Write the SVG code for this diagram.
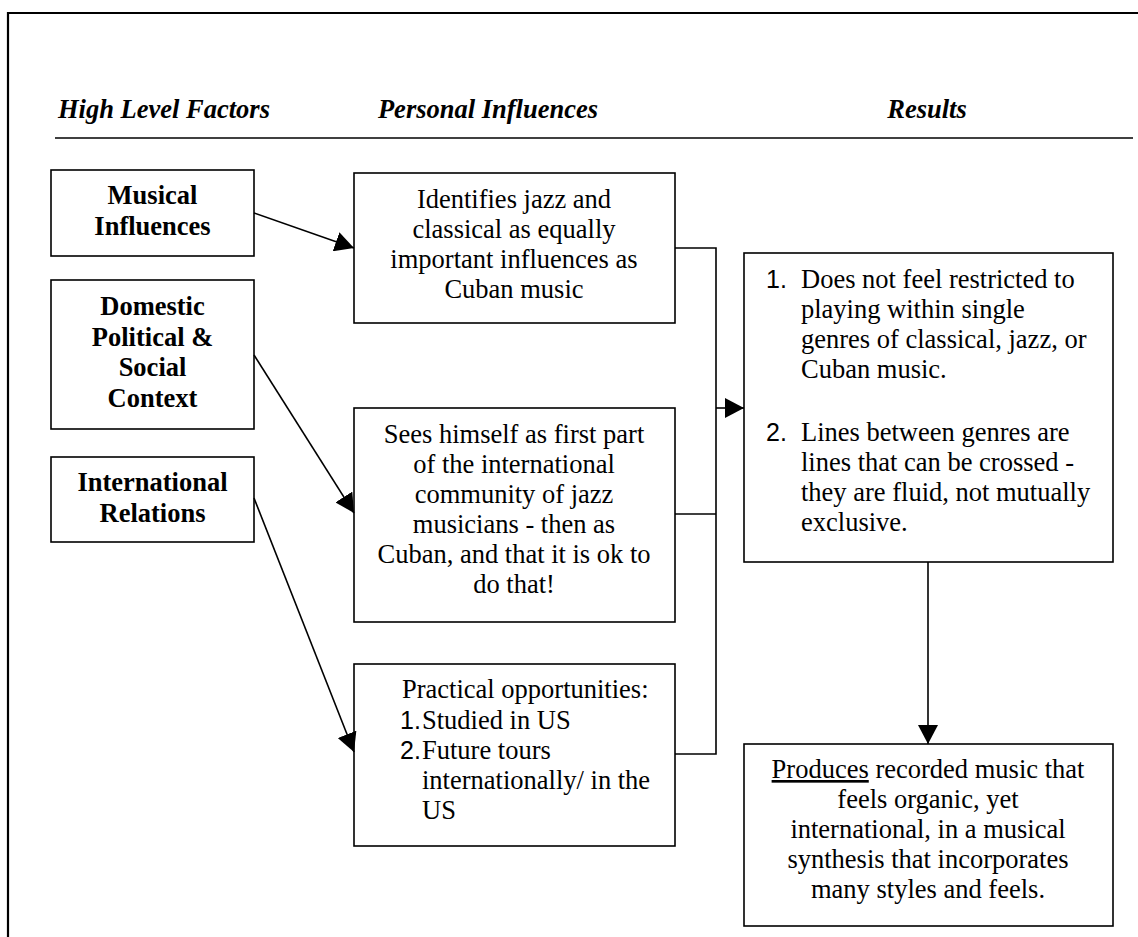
<svg xmlns="http://www.w3.org/2000/svg" width="1138" height="937" viewBox="0 0 1138 937">
  <style>
    .box { fill: #fff; stroke: #000; stroke-width: 1.6; }
    .frame { fill: none; stroke: #000; stroke-width: 2.2; }
    .rule { stroke: #000; stroke-width: 1.6; }
    .wire { fill: none; stroke: #000; stroke-width: 1.6; }
    .head { font-size: 26.5px; font-weight: bold; font-style: italic; fill: #000; }
    .factor { font-size: 26.5px; font-weight: bold; fill: #000; text-anchor: middle; }
    .body { font-size: 26.5px; fill: #000; }
    .mid { text-anchor: middle; }
    .num { font-size: 25px; fill: #000; }
  </style>
  <defs>
    <marker id="arrow" markerUnits="userSpaceOnUse" viewBox="0 0 20 20" markerWidth="20" markerHeight="20" refX="19" refY="10" orient="auto">
      <path d="M0,0 L19,10 L0,20 z" fill="#000"/>
    </marker>
  </defs>

  <rect width="1138" height="937" fill="#fff"/>

  <!-- page frame -->
  <path class="frame" d="M8,937 L8,13 L1138,13"/>

  <g font-family="Liberation Serif">
    <!-- column headings -->
    <g id="headings">
      <text class="head" x="58" y="118">High Level Factors</text>
      <text class="head" x="488" y="118" text-anchor="middle">Personal Influences</text>
      <text class="head" x="927" y="118" text-anchor="middle">Results</text>
      <line class="rule" x1="55" y1="138" x2="1133" y2="138"/>
    </g>

    <!-- high level factors -->
    <g id="musical-influences">
      <rect class="box" x="51" y="170" width="203" height="86"/>
      <text class="factor" x="152.5" y="204">Musical</text>
      <text class="factor" x="152.5" y="235">Influences</text>
    </g>
    <g id="domestic-context">
      <rect class="box" x="51" y="280" width="203" height="149"/>
      <text class="factor" x="152.5" y="315">Domestic</text>
      <text class="factor" x="152.5" y="345.5">Political &amp;</text>
      <text class="factor" x="152.5" y="376">Social</text>
      <text class="factor" x="152.5" y="406.5">Context</text>
    </g>
    <g id="international-relations">
      <rect class="box" x="51" y="457" width="203" height="85"/>
      <text class="factor" x="152.5" y="491">International</text>
      <text class="factor" x="152.5" y="522">Relations</text>
    </g>

    <!-- personal influences -->
    <g id="equal-influences">
      <rect class="box" x="354" y="173" width="321" height="150"/>
      <text class="body mid" x="514" y="208">Identifies jazz and</text>
      <text class="body mid" x="514" y="238">classical as equally</text>
      <text class="body mid" x="514" y="268">important influences as</text>
      <text class="body mid" x="514" y="298">Cuban music</text>
    </g>
    <g id="international-community">
      <rect class="box" x="354" y="408" width="321" height="214"/>
      <text class="body mid" x="514" y="443">Sees himself as first part</text>
      <text class="body mid" x="514" y="473">of the international</text>
      <text class="body mid" x="514" y="503">community of jazz</text>
      <text class="body mid" x="514" y="533">musicians - then as</text>
      <text class="body mid" x="514" y="563">Cuban, and that it is ok to</text>
      <text class="body mid" x="514" y="593">do that!</text>
    </g>
    <g id="practical-opportunities">
      <rect class="box" x="354" y="664" width="321" height="182"/>
      <text class="body" x="402" y="698">Practical opportunities:</text>
      <text class="num" font-family="Liberation Sans" x="400" y="729">1.</text>
      <text class="body" x="422" y="729">Studied in US</text>
      <text class="num" font-family="Liberation Sans" x="400" y="759">2.</text>
      <text class="body" x="422" y="759">Future tours</text>
      <text class="body" x="422" y="789">internationally/ in the</text>
      <text class="body" x="422" y="819">US</text>
    </g>

    <!-- results -->
    <g id="genre-freedom">
      <rect class="box" x="744" y="253" width="369" height="309"/>
      <text class="num" font-family="Liberation Sans" x="766" y="288">1.</text>
      <text class="body" x="801" y="288">Does not feel restricted to</text>
      <text class="body" x="801" y="318">playing within single</text>
      <text class="body" x="801" y="348">genres of classical, jazz, or</text>
      <text class="body" x="801" y="378">Cuban music.</text>
      <text class="num" font-family="Liberation Sans" x="766" y="441">2.</text>
      <text class="body" x="801" y="441">Lines between genres are</text>
      <text class="body" x="801" y="471">lines that can be crossed -</text>
      <text class="body" x="801" y="501">they are fluid, not mutually</text>
      <text class="body" x="801" y="531">exclusive.</text>
    </g>
    <g id="recorded-music">
      <rect class="box" x="744" y="744" width="369" height="182"/>
      <text class="body mid" x="928" y="778"><tspan text-decoration="underline">Produces</tspan> recorded music that</text>
      <text class="body mid" x="928" y="808">feels organic, yet</text>
      <text class="body mid" x="928" y="838">international, in a musical</text>
      <text class="body mid" x="928" y="868">synthesis that incorporates</text>
      <text class="body mid" x="928" y="898">many styles and feels.</text>
    </g>
  </g>

  <!-- connectors -->
  <g id="connectors">
    <line class="wire" x1="254" y1="213" x2="354" y2="248" marker-end="url(#arrow)"/>
    <line class="wire" x1="254" y1="355" x2="354" y2="513" marker-end="url(#arrow)"/>
    <line class="wire" x1="254" y1="498" x2="354" y2="752" marker-end="url(#arrow)"/>
    <path class="wire" d="M675,248 H716 V754 H675"/>
    <line class="wire" x1="675" y1="514" x2="716" y2="514"/>
    <line class="wire" x1="716" y1="408" x2="744" y2="408" marker-end="url(#arrow)"/>
    <line class="wire" x1="928" y1="562" x2="928" y2="744" marker-end="url(#arrow)"/>
  </g>
</svg>
